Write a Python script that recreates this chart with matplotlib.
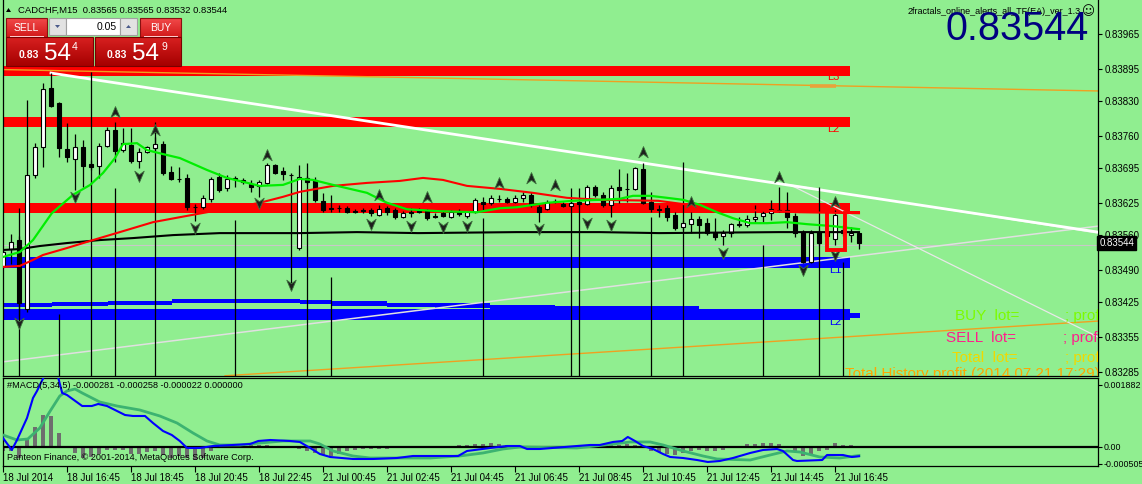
import numpy as np
import matplotlib
matplotlib.use("Agg")
import matplotlib.pyplot as plt
from matplotlib.path import Path
from matplotlib.patches import Rectangle, Polygon
from matplotlib.colors import LinearSegmentedColormap
from matplotlib.transforms import blended_transform_factory

plt.rcParams['font.family'] = ['Liberation Sans', 'DejaVu Sans']

PT = 1e-5   # one price point
U6 = 1e-6   # MACD unit

# ---------------- candles (price points, 1 pt = 0.00001) ----------------
open_pts = [83498, 83532, 83550, 83411, 83681, 83737, 83856, 83826, 83733, 83713,
            83737, 83703, 83699, 83739, 83771, 83731, 83741, 83709, 83727, 83735,
            83743, 83687, 83673, 83675, 83617, 83617, 83633, 83677, 83655, 83675,
            83671, 83663, 83659, 83665, 83701, 83689, 83681, 83534, 83675, 83671,
            83629, 83615, 83615, 83615, 83608, 83610, 83610, 83600, 83615, 83610,
            83596, 83606, 83608, 83610, 83598, 83604, 83596, 83606, 83598, 83606,
            83627, 83625, 83633, 83633, 83627, 83635, 83641, 83617, 83612, 83629,
            83623, 83619, 83627, 83623, 83657, 83641, 83621, 83657, 83653, 83653,
            83693, 83627, 83612, 83615, 83600, 83576, 83582, 83592, 83584, 83566,
            83558, 83564, 83582, 83580, 83592, 83598, 83604, 83610, 83610, 83598,
            83566, 83506, 83566, 83566, 83552, 83570, 83560, 83565]
high_pts = [83530, 83562, 83558, 83832, 83745, 83866, 83886, 83828, 83786, 83763,
            83751, 83711, 83745, 83777, 83788, 83775, 83775, 83735, 83739, 83757,
            83749, 83699, 83697, 83683, 83623, 83641, 83677, 83685, 83681, 83679,
            83675, 83671, 83671, 83705, 83703, 83697, 83685, 83701, 83679, 83677,
            83645, 83641, 83621, 83619, 83612, 83615, 83615, 83621, 83619, 83615,
            83608, 83615, 83615, 83612, 83604, 83608, 83610, 83612, 83608, 83635,
            83637, 83641, 83641, 83637, 83641, 83647, 83647, 83621, 83631, 83633,
            83627, 83631, 83635, 83661, 83661, 83647, 83661, 83693, 83685, 83697,
            83705, 83647, 83621, 83621, 83606, 83590, 83606, 83598, 83594, 83594,
            83570, 83584, 83596, 83600, 83621, 83610, 83631, 83657, 83647, 83604,
            83570, 83570, 83570, 83574, 83610, 83580, 83576, 83565]
low_pts = [83494, 83502, 83393, 83405, 83675, 83697, 83818, 83717, 83707, 83651,
           83657, 83691, 83675, 83737, 83707, 83727, 83705, 83695, 83725, 83731,
           83681, 83671, 83667, 83610, 83588, 83612, 83627, 83647, 83649, 83657,
           83663, 83647, 83637, 83663, 83683, 83671, 83464, 83530, 83663, 83627,
           83606, 83606, 83606, 83604, 83604, 83604, 83598, 83598, 83600, 83592,
           83594, 83596, 83604, 83590, 83594, 83596, 83594, 83598, 83594, 83604,
           83610, 83621, 83627, 83625, 83625, 83627, 83617, 83586, 83610, 83625,
           83617, 83617, 83617, 83621, 83637, 83617, 83596, 83625, 83627, 83651,
           83623, 83606, 83596, 83588, 83570, 83570, 83564, 83554, 83560, 83550,
           83540, 83556, 83576, 83576, 83586, 83586, 83590, 83606, 83574, 83556,
           83504, 83504, 83540, 83550, 83540, 83558, 83546, 83532]
close_pts = [83526, 83546, 83423, 83681, 83737, 83854, 83820, 83735, 83717, 83737,
             83699, 83697, 83739, 83771, 83729, 83745, 83709, 83727, 83737, 83743,
             83685, 83673, 83672, 83617, 83616, 83635, 83673, 83651, 83673, 83673,
             83667, 83657, 83667, 83701, 83685, 83683, 83680, 83677, 83667, 83631,
             83610, 83612, 83614, 83606, 83607, 83609, 83604, 83612, 83606, 83596,
             83604, 83605, 83607, 83594, 83597, 83598, 83606, 83602, 83606, 83631,
             83623, 83635, 83632, 83627, 83635, 83641, 83621, 83606, 83627, 83628,
             83619, 83625, 83623, 83657, 83641, 83621, 83655, 83651, 83652, 83695,
             83625, 83612, 83611, 83596, 83574, 83584, 83592, 83580, 83564, 83556,
             83564, 83582, 83581, 83592, 83596, 83604, 83612, 83609, 83596, 83564,
             83506, 83564, 83544, 83558, 83600, 83564, 83564, 83544]

# ---------------- moving averages (bar index, price points) ----------------
ma_fast_idx = [0, 2.1, 3.75, 6.1, 8.75, 10.9, 12.5, 14, 15, 16.75, 18, 20, 22.1, 25.5, 28,
               32.1, 35, 37.1, 38.75, 41.25, 45.5, 48, 50.5, 54.6, 59.25, 62.1, 64.25, 68,
               71.25, 74.6, 77.1, 78.75, 80.9, 83, 85, 87.1, 89.25, 91.25, 93.4, 95.5, 98,
               100.5, 103.75, 107]
ma_fast_val = [83516, 83526, 83550, 83604, 83641, 83661, 83685, 83715, 83743, 83745, 83731,
               83723, 83715, 83691, 83675, 83659, 83661, 83673, 83671, 83661, 83645, 83625,
               83612, 83608, 83606, 83614, 83616, 83625, 83629, 83631, 83633, 83639, 83639,
               83635, 83631, 83621, 83606, 83594, 83584, 83584, 83586, 83582, 83578, 83572]
ma_mid_idx = [0, 2.1, 3.75, 5, 8, 11.25, 14.6, 18.75, 22.1, 25.5, 28.75, 32.1, 35, 37.1,
              41.25, 45.5, 49.6, 52.5, 55, 58, 62.1, 66.25, 70.5, 74.6, 81.9, 87.1, 93.4,
              99.6, 107]
ma_mid_val = [83496, 83498, 83510, 83520, 83534, 83550, 83566, 83586, 83596, 83606, 83615,
              83625, 83637, 83647, 83659, 83665, 83669, 83675, 83671, 83659, 83653, 83645,
              83635, 83631, 83629, 83618, 83610, 83606, 83604]
ma_slow_idx = [0, 2.1, 4.6, 8, 12.1, 16.25, 21.25, 27.1, 37.1, 44.25, 51.9, 64.25, 74.6,
               82, 97, 107]
ma_slow_val = [83530, 83532, 83538, 83544, 83550, 83554, 83560, 83564, 83564, 83566, 83564,
               83566, 83566, 83564, 83566, 83566]

# ---------------- levels ----------------
red_bands = [(83880, 83900), (83777, 83798), (83604, 83625)]
blue_bands = [(83494, 83516), (83389, 83411)]
band_end_idx = 105.9
red_stub = (83604, 83608)
blue_stub = (83393, 83403)
stub_end_idx = 107.1
thin_blue_idx = [0, 6.1, 13.1, 21.1, 37.1, 41, 48, 54, 60.9, 69, 87]
thin_blue_top = [83423, 83425, 83428, 83432, 83429, 83427, 83424, 83423, 83419, 83417, 83417]
thin_blue_bot = [83415, 83417, 83420, 83423, 83421, 83418, 83416, 83413, 83411, 83411, 83411]
level_labels = [("L3", 103.0, 83878, 'red'), ("L2", 103.0, 83773, 'red'),
                ("L1", 103.3, 83490, 'blue'), ("L2", 103.3, 83385, 'blue')]

# trend lines: (x0, p0, x1, p1)
white_trend = (6, 83886, 136.875, 83566)
thin_a = (96.75, 83665, 136.875, 83564)
thin_b = (98.4, 83661, 136.875, 83355)
rising_line = (0, 83305, 136.875, 83578)
orange_top = (0, 83893, 136.875, 83850)
orange_low = (27.75, 83277, 136.875, 83387)
orange_dash = (100.9, 83860, 104.1, 83860)
ask_level = 83540
box_u = (103, 105.25, 83604, 83530)

# vertical lines (bar index, top price)
vl_idx = [2, 7, 11, 14, 19, 29, 38, 41, 60, 71, 72, 81, 85, 95, 102, 105]
vl_top = [83615, 83401, 83888, 83655, 83788, 83590, 83705, 83476, 83594, 83655, 83655,
          83596, 83707, 83540, 83657, 83506]

# fractals
fr_up_idx = [14, 19, 33, 47, 53, 62, 66, 69, 80, 86, 97, 104]
fr_up_val = [83808, 83771, 83721, 83641, 83637, 83665, 83675, 83661, 83727, 83627, 83677, 83627]
fr_dn_idx = [2, 9, 17, 24, 32, 36, 46, 51, 55, 58, 67, 73, 76, 90, 100, 104]
fr_dn_val = [83383, 83637, 83679, 83574, 83625, 83460, 83582, 83578, 83576, 83578, 83572,
             83584, 83580, 83524, 83490, 83520]

# ---------------- MACD (units of 1e-6) ----------------
macd_idx = [0, 1.1, 1.75, 3, 3.75, 4.25, 5.25, 6, 6.8, 7.4, 8, 9.9, 11.1, 11.9, 13, 14, 15.25,
            16.25, 17.75, 18.75, 20, 21.1, 22.1, 23, 24.6, 26.25, 28.75, 30.9, 31.9, 33.4,
            35.9, 37.1, 38.4, 39.6, 40.9, 43.75, 46.25, 49.25, 51.25, 53.4, 56.9, 58, 60.9,
            63, 64.6, 65.5, 67.1, 71.75, 73.4, 74.6, 76.25, 77.4, 78.1, 79, 80, 81.25, 82.5,
            83.4, 85, 86.75, 88.1, 89.6, 91.25, 93.4, 95, 96.75, 97.5, 98.75, 99.25, 102.4,
            103, 105, 106.1, 107]
macd_val = [273, -91, 212, 880, 1487, 1700, 2200, 2350, 2200, 1639, 1578, 1244, 1244, 1305,
            1244, 1123, 971, 941, 941, 728, 486, 364, 182, -30, -30, 30, 61, 91, 182, 212,
            182, 152, -30, -212, -304, -364, -364, -334, -273, -273, -273, -121, -30, 30, 30,
            -61, -61, 30, 61, 61, 152, 182, 304, 182, 30, -61, -212, -304, -334, -395, -455,
            -425, -334, -182, -91, -61, -121, -395, -425, -395, -243, -243, -304, -281]
signal_idx = [0, 1.75, 3.1, 4.6, 5.9, 7.1, 8, 9, 9.9, 12.1, 14.25, 17.1, 19.6, 21.75, 23.75,
              25.5, 27.1, 29.6, 32.1, 35, 38.4, 39.6, 41.25, 43.75, 45.9, 49.6, 53.4, 57.1,
              60, 62.5, 64.6, 71.75, 76.25, 78.4, 80.9, 82.5, 85, 87.5, 89.25, 93.4, 95.9, 98,
              99.6, 102.1, 104.6, 107]
signal_val = [364, 212, 243, 577, 1093, 1548, 1700, 1760, 1639, 1366, 1244, 1123, 941, 728,
              425, 182, 61, 61, 121, 182, 182, 91, -121, -273, -334, -334, -334, -273, -182,
              -61, 0, -30, 91, 152, 152, 61, -121, -273, -364, -395, -243, -121, -152, -304,
              -334, -258]
hist_val = [-121, -121, -334, 212, 607, 971, 941, 425, 0, -182,
            -334, -304, -212, -91, -91, -91, -212, -212, -152, -121,
            -243, -334, -273, -334, -395, -334, -121, -30, 30, 30,
            61, 61, 61, 61, 30, 30, -30, -61, -121, -182,
            -243, -273, -212, -121, -91, -61, -61, -61, -61, -30,
            -30, -30, 0, 0, 0, 30, 30, 61, 61, 91,
            91, 121, 91, 61, 30, 0, 0, -30, -30, 0,
            0, 30, 30, 61, 61, 30, 61, 61, 91, 61,
            -30, -121, -152, -212, -243, -182, -121, -91, -121, -121,
            -91, -30, 0, 91, 91, 121, 121, 91, 30, -121,
            -273, -212, -121, -91, 121, 61, 61, -22]

price_ticks = [0.83965, 0.83895, 0.83830, 0.83760, 0.83695, 0.83625, 0.83560, 0.83490,
               0.83425, 0.83355, 0.83285]
macd_ticks = [0.001882, 0.0, -0.000505]
macd_tick_labels = ['0.001882', '0.00', '-0.000505']
time_tick_idx = [0, 8, 16, 24, 32, 40, 48, 56, 64, 72, 80, 88, 96, 104]
time_labels = ['18 Jul 2014', '18 Jul 16:45', '18 Jul 18:45', '18 Jul 20:45', '18 Jul 22:45',
               '21 Jul 00:45', '21 Jul 02:45', '21 Jul 04:45', '21 Jul 06:45', '21 Jul 08:45',
               '21 Jul 10:45', '21 Jul 12:45', '21 Jul 14:45', '21 Jul 16:45']
last_price = 0.83544

# ================= drawing =================
W, H, DPI = 1142, 484, 100
BG = '#90EE90'
fig = plt.figure(figsize=(W / DPI, H / DPI), dpi=DPI, facecolor=BG)


def panel(top, bottom):
    return [3 / W, (H - bottom) / H, 1095 / W, (bottom - top) / H]


ax = fig.add_axes(panel(0, 376))
am = fig.add_axes(panel(378, 466))
for a in (ax, am):
    a.set_facecolor(BG)
    for s in a.spines.values():
        s.set_color('black')
        s.set_linewidth(0.9)
ax.spines['top'].set_visible(False)
XMAX = 1095 / 8
ax.set_xlim(0, XMAX)
am.set_xlim(0, XMAX)
ax.set_ylim(0.832765, 0.84033)
am.set_ylim(-0.000577, 0.002094)

o = np.array(open_pts) * PT
hi = np.array(high_pts) * PT
lo = np.array(low_pts) * PT
c = np.array(close_pts) * PT
idx = np.arange(len(o))

# bands
for b0, b1 in red_bands:
    ax.fill_between([0, band_end_idx], b0 * PT, b1 * PT, color='#FF0000', lw=0, zorder=1)
for b0, b1 in blue_bands:
    ax.fill_between([0, band_end_idx], b0 * PT, b1 * PT, color='#0000FF', lw=0, zorder=1)
ax.fill_between([band_end_idx - 0.1, stub_end_idx], red_stub[0] * PT, red_stub[1] * PT,
                color='#FF0000', lw=0, zorder=1)
ax.fill_between([band_end_idx - 0.1, stub_end_idx], blue_stub[0] * PT, blue_stub[1] * PT,
                color='#0000FF', lw=0, zorder=1)
ax.fill_between(thin_blue_idx, np.array(thin_blue_bot) * PT, np.array(thin_blue_top) * PT,
                step='post', color='#0000FF', lw=0, zorder=1)
for t, xi, yp, col in level_labels:
    ax.text(xi, yp * PT, t, color=col, fontsize=8, va='center', ha='left', zorder=9)

# lines
ax.axhline(ask_level * PT, color='#C8C8C8', lw=0.8, zorder=2)


def seg(spec, **kw):
    x0, p0, x1, p1 = spec
    ax.plot([x0, x1], [p0 * PT, p1 * PT], **kw)


seg(orange_top, color='#F0A020', lw=1.0, zorder=2)
seg(orange_low, color='#F0A020', lw=1.0, zorder=2)
seg(orange_dash, color='#E9A23B', lw=2.6, zorder=2, solid_capstyle='butt')
seg(rising_line, color='#E0E0E0', lw=1.1, zorder=2)
seg(thin_a, color='#E8E8E8', lw=0.9, zorder=2)
seg(thin_b, color='#E8E8E8', lw=0.9, zorder=2)
seg(white_trend, color='white', lw=2.0, zorder=3)

ax.vlines(vl_idx, 0.832765, np.array(vl_top) * PT, color='black', lw=0.9, zorder=3)

# candles
ax.vlines(idx, lo, hi, color='black', lw=0.9, zorder=4)
up = c >= o
bb = np.minimum(o, c)
bh = np.abs(c - o)
ax.bar(idx[up], bh[up], bottom=bb[up], width=0.62, facecolor='white', edgecolor='black',
       lw=0.8, zorder=5)
ax.bar(idx[~up], bh[~up], bottom=bb[~up], width=0.62, facecolor='black', edgecolor='black',
       lw=0.8, zorder=5)

# moving averages
ax.plot(ma_slow_idx, np.array(ma_slow_val) * PT, color='black', lw=1.5, zorder=6)
ax.plot(ma_mid_idx, np.array(ma_mid_val) * PT, color='#FF0000', lw=1.5, zorder=6)
ax.plot(ma_fast_idx, np.array(ma_fast_val) * PT, color='#00EE00', lw=1.6, zorder=6)

# fractals
up_path = Path([(0, 1), (0.8, -0.9), (0, -0.3), (-0.8, -0.9), (0, 1)],
               [Path.MOVETO, Path.LINETO, Path.LINETO, Path.LINETO, Path.CLOSEPOLY])
dn_path = Path([(0, -1), (0.8, 0.9), (0, 0.3), (-0.8, 0.9), (0, -1)],
               [Path.MOVETO, Path.LINETO, Path.LINETO, Path.LINETO, Path.CLOSEPOLY])
ax.plot(fr_up_idx, np.array(fr_up_val) * PT, ls='none', marker=up_path, ms=8.5,
        mfc='#1E1E1E', mec='#3C6E3C', mew=0.6, zorder=7)
ax.plot(fr_dn_idx, np.array(fr_dn_val) * PT, ls='none', marker=dn_path, ms=8.5,
        mfc='#1E1E1E', mec='#3C6E3C', mew=0.6, zorder=7)

# red U box
bx0, bx1, bp0, bp1 = box_u
ax.plot([bx0, bx0, bx1, bx1], [bp0 * PT, bp1 * PT, bp1 * PT, bp0 * PT], color='#FF0000',
        lw=2.8, zorder=8, solid_joinstyle='miter')

# axis ticks
ax.yaxis.tick_right()
ax.set_yticks(price_ticks)
ax.set_yticklabels([f'{v:.5f}' for v in price_ticks])
ax.tick_params(axis='y', direction='out', length=3, width=0.8, pad=1.5, labelsize=7,
               colors='black')
ax.set_xticks([])

am.yaxis.tick_right()
am.set_yticks(macd_ticks)
am.set_yticklabels(macd_tick_labels)
am.tick_params(axis='y', direction='out', length=3, width=0.8, pad=1.2, labelsize=6.4)
am.set_xticks(time_tick_idx)
am.set_xticklabels(time_labels)
am.tick_params(axis='x', direction='out', length=4, width=0.8, pad=1, labelsize=7)
for lab in am.get_xticklabels():
    lab.set_ha('left')

bt = blended_transform_factory(ax.transAxes, ax.transData)
ax.text(1.0012, last_price, f'{last_price:.5f}', transform=bt, color='white', fontsize=7,
        va='center', ha='left', clip_on=False, zorder=20,
        bbox=dict(boxstyle='square,pad=0.2', fc='black', ec='black'))

# MACD
am.bar(np.arange(len(hist_val)), np.array(hist_val) * U6, width=0.4, color='#6E6E6E', zorder=2)
am.axhline(0, color='black', lw=1.6, zorder=3)
am.plot(signal_idx, np.array(signal_val) * U6, color='#3CB371', lw=2.0, zorder=4)
am.plot(macd_idx, np.array(macd_val) * U6, color='#0000FF', lw=1.5, zorder=5)


def mpx(px, py):
    return ((px - 3) / 1095, (466 - py) / 88)


def apx(px, py):
    return ((px - 3) / 1095, (376 - py) / 376)


am.text(*mpx(7, 386), '#MACD(5,34,5) -0.000281 -0.000258 -0.000022 0.000000',
        transform=am.transAxes, fontsize=6.6, va='center', ha='left', zorder=10)
am.text(*mpx(7, 458), 'Panteon Finance, \u00a9 2001-2014, MetaQuotes Software Corp.',
        transform=am.transAxes, fontsize=6.6, va='center', ha='left', zorder=10)

# account texts (clipped at chart edge)
for txt, px, py, col in [('BUY  lot=', 955, 316, '#7CFC00'), ('; profit=', 1065, 316, '#7CFC00'),
                         ('SELL  lot=', 946, 338, '#FF1E8C'), ('; profit=', 1063, 338, '#FF1E8C'),
                         ('Total  lot=', 952, 358, '#F0D800'), ('; profit=', 1065, 358, '#F0D800')]:
    ax.text(*apx(px, py), txt, transform=ax.transAxes, color=col, fontsize=11, va='center',
            ha='left', clip_on=True, zorder=10)
ax.text(*apx(845, 367), 'Total History profit (2014.07.21 17:29)', transform=ax.transAxes,
        color='#FFA500', fontsize=11, va='top', ha='left', clip_on=True, zorder=10)

# ---------------- overlay (terminal UI) ----------------
ov = fig.add_axes([0, 0, 1, 1])
ov.set_zorder(50)
ov.patch.set_visible(False)
ov.axis('off')


def grad(x0, y0, x1, y1, ctop, cbot, ec=None):
    cmap = LinearSegmentedColormap.from_list('g', [ctop, cbot])
    ov.imshow(np.linspace(0, 1, 64).reshape(-1, 1), cmap=cmap, extent=(x0, x1, y1, y0),
              aspect='auto', interpolation='bilinear', zorder=1)
    if ec:
        ov.add_patch(Rectangle((x0, y0), x1 - x0, y1 - y0, fill=False, ec=ec, lw=0.8, zorder=2))


grad(6, 18, 47, 37, '#F24A4A', '#D21A1A', ec='#8A1010')
grad(140, 18, 181, 37, '#F24A4A', '#D21A1A', ec='#8A1010')
grad(6, 37, 93, 66, '#D82020', '#A50000', ec='#7A0000')
grad(95, 37, 181, 66, '#D82020', '#A50000', ec='#7A0000')
ov.plot([10, 43], [36, 36], color='#FFD0D0', lw=0.7, zorder=3)
ov.plot([144, 177], [36, 36], color='#FFD0D0', lw=0.7, zorder=3)
ov.add_patch(Rectangle((49, 18), 17, 17, fc='#E2E2E2', ec='#A0A0A0', lw=0.8, zorder=2))
ov.add_patch(Rectangle((66, 18), 54, 17, fc='white', ec='#A0A0A0', lw=0.8, zorder=2))
ov.add_patch(Rectangle((120, 18), 17, 17, fc='#E2E2E2', ec='#A0A0A0', lw=0.8, zorder=2))
ov.add_patch(Polygon([(55, 25), (60, 25), (57.5, 28)], closed=True, fc='#4A5A8A', ec='none', zorder=3))
ov.add_patch(Polygon([(126, 28), (131, 28), (128.5, 25)], closed=True, fc='#4A5A8A', ec='none', zorder=3))
ov.text(26.5, 28, 'SELL', color='white', fontsize=7.5, ha='center', va='center', zorder=4)
ov.text(160.5, 28, 'BUY', color='white', fontsize=7.5, ha='center', va='center', zorder=4)
ov.text(117, 26.5, '0.05', color='black', fontsize=7.5, ha='right', va='center', zorder=4)
ov.text(19, 55, '0.83', color='white', fontsize=7.5, fontweight='bold', ha='left', va='center', zorder=4)
ov.text(44, 60, '54', color='white', fontsize=17.5, ha='left', va='baseline', zorder=4)
ov.text(72, 47, '4', color='white', fontsize=7.5, ha='left', va='center', zorder=4)
ov.text(107, 55, '0.83', color='white', fontsize=7.5, fontweight='bold', ha='left', va='center', zorder=4)
ov.text(132, 60, '54', color='white', fontsize=17.5, ha='left', va='baseline', zorder=4)
ov.text(161, 47, '9', color='white', fontsize=7.5, ha='left', va='center', zorder=4)

ov.add_patch(Polygon([(6, 12), (11, 12), (8.5, 8)], closed=True, fc='black', ec='none', zorder=4))
ov.text(18, 10, 'CADCHF,M15  0.83565 0.83565 0.83532 0.83544', color='black', fontsize=6.8,
        ha='left', va='center', zorder=4)
ov.text(1081, 12, '2fractals_online_alerts_all_TF(EA)_ver_1.3', color='black', fontsize=6.5,
        ha='right', va='center', zorder=4)
ov.text(1088, 12, '\u263a', color='black', fontsize=9, ha='center', va='center',
        family=['DejaVu Sans'], zorder=4)
ov.text(1089, 40, f'{last_price:.5f}', color='#000080', fontsize=28.5, ha='right',
        va='baseline', zorder=5)
ov.set_xlim(0, W)
ov.set_ylim(H, 0)

fig.savefig('out.png', dpi=DPI, facecolor=BG)
